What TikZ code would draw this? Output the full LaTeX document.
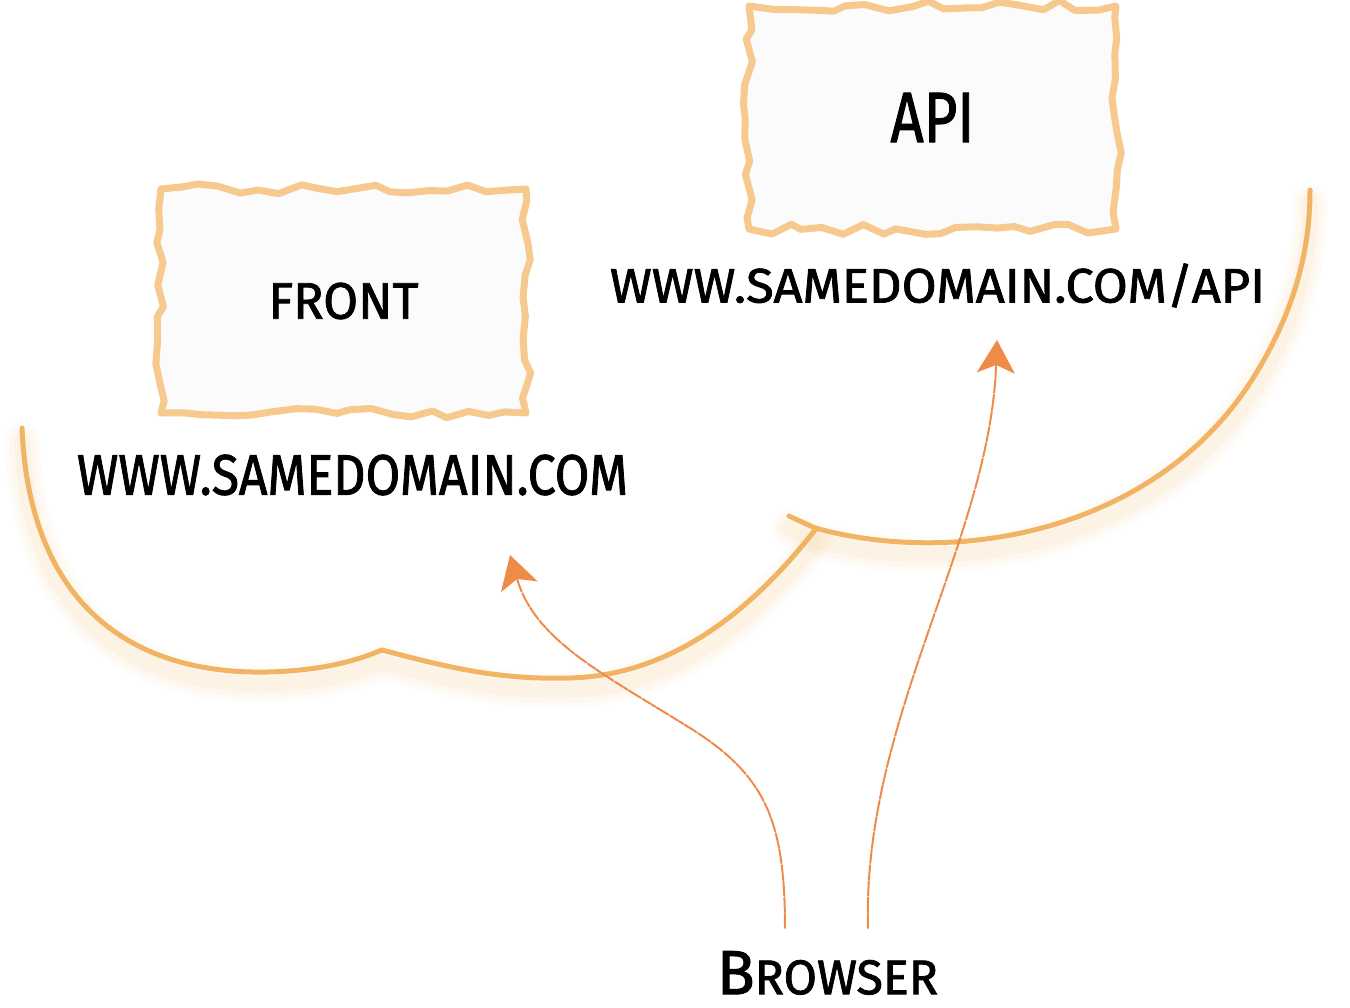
\documentclass[tikz,border=0pt]{standalone}
\usepackage{fontspec}
\setmainfont{Fira Sans}[FakeBold=1.6]
\usepackage{graphicx}
\usetikzlibrary{decorations.pathmorphing,arrows.meta}
\definecolor{boxline}{HTML}{F6C98F}
\definecolor{cloudline}{HTML}{F0B464}
\definecolor{arrowc}{HTML}{EE8B48}
\definecolor{boxfill}{HTML}{FBFBFB}
\newcommand\fittxt[3]{\resizebox{#1}{#2}{#3}}
\begin{document}
\begin{tikzpicture}[x=1pt,y=-1pt,
  sketchbox/.style={draw=boxline, fill=boxfill, line width=7pt, line join=round, line cap=round,
    decorate, decoration={random steps, segment length=19pt, amplitude=5.5pt}, inner sep=0pt},
  lbl/.style={inner sep=0pt, text=black},
  cloudL/.style={insert path={(22,428) .. controls (30,620) and (150,685) .. (300,670)
     .. controls (340,666) and (365,657) .. (382,650)
     .. controls (450,668) and (500,680) .. (570,678)
     .. controls (680,675) and (760,600) .. (815,530)}},
  cloudR/.style={insert path={(789,516) -- (815,528)
     .. controls (960,568) and (1160,530) .. (1255,375)
     .. controls (1295,310) and (1310,250) .. (1310,190)}},
  cloudstroke/.style={draw=cloudline, line width=5pt, line cap=round, line join=round},
  arrowline/.style={draw=arrowc, line width=2pt, line cap=round,
    dash pattern=on 14pt off 1.5pt on 5pt off 1pt on 9pt off 2pt,
    -{Stealth[length=33pt, width=38pt, inset=8pt, sep=0pt]}}
]
\useasboundingbox (0,0) rectangle (1350,1008);
\pgfmathsetseed{11}
% cloud shadow
\foreach \w/\o in {36/0.04, 26/0.06, 16/0.08} {
  \draw[cloudline, line width=\w pt, opacity=\o, shift={(0,12)}, line cap=round, cloudL];
  \draw[cloudline, line width=\w pt, opacity=\o, shift={(0,12)}, line cap=round, cloudR];
}
\draw[cloudstroke, cloudL];
\draw[cloudstroke, cloudR];

% boxes
\node[sketchbox, minimum width=365pt, minimum height=224pt] (front) at (343.5,301)
  {\fittxt{150pt}{36pt}{FRONT}};
\node[sketchbox, minimum width=367pt, minimum height=223pt] (api) at (932.5,117.5)
  {\fittxt{84pt}{49pt}{API}};

% labels
\node[lbl] (frontdom) at (352.5,475) {\fittxt{551pt}{40pt}{WWW.SAMEDOMAIN.COM}};
\node[lbl] (apidom) at (937.5,285.5) {\fittxt{655pt}{39pt}{WWW.SAMEDOMAIN.COM/API}};
\node[lbl] (browser) at (827.5,973) {\fittxt{221pt}{43pt}{B\scalebox{0.78}{ROWSER}}};

% connectors
\coordinate (b1) at (785,928);
\coordinate (t1) at (510,555);
\coordinate (b2) at (868,928);
\coordinate (t2) at (997,340);
\draw[arrowline] (b1) .. controls (785,820) and (765,775) .. (690,728)
   .. controls (600,672) and (535,640) .. (t1);
\draw[arrowline] (b2) .. controls (862,720) and (990,540) .. (t2);
\end{tikzpicture}
\end{document}
